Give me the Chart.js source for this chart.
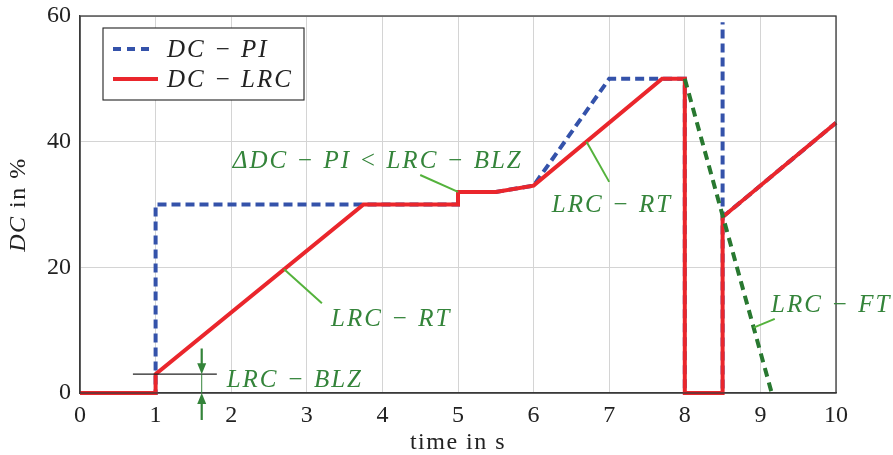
<!DOCTYPE html>
<html>
<head>
<meta charset="utf-8">
<script src="https://cdn.jsdelivr.net/npm/chart.js@4"></script>
<style>
  html, body { margin: 0; padding: 0; background: #fff; }
  #wrap { width: 893px; height: 455px; }
</style>
</head>
<body>
<div id="wrap"><canvas id="c" width="893" height="455"></canvas></div>
<script>
// Duty cycle of the PI controller and the LRC controller over time
// (null splits the PI trace after the spike at 8.5 s)
const timePI = [0, 1, 1, 5, 5, 5.5, 6, 7, 8, 8, 8.5, 8.5, 8.5, 8.5, 10];
const dcPI   = [0, 0, 30, 30, 32, 32, 33, 50, 50, 0, 0, 59, null, 28, 43];

const timeLRC = [0, 1, 1, 3.75, 5, 5, 5.5, 6, 7.7, 8, 8, 8.5, 8.5, 10];
const dcLRC   = [0, 0, 3, 30, 30, 32, 32, 33, 50, 50, 0, 0, 28, 43];

// falling-time ramp of the LRC
const timeFT = [8, 9.15];
const dcFT   = [50, 0];

const xTicks = [0, 1, 2, 3, 4, 5, 6, 7, 8, 9, 10];
const yTicks = [0, 20, 40, 60];

const seriesNames = ['DC \u2212 PI', 'DC \u2212 LRC'];

const BLUE = 'rgb(52, 82, 170)';
const RED = 'rgb(234, 38, 44)';
const GREEN_DASH = 'rgb(40, 120, 48)';
const GREEN_TEXT = 'rgb(52, 132, 58)';
const GREEN_LEAD = 'rgb(84, 178, 60)';
const SERIF = '"Liberation Serif", "DejaVu Serif", serif';

const toPoints = (xs, ys) => xs.map((x, i) => ({ x: x, y: ys[i] }));

const noScalePadding = s => {
  s.paddingTop = 0; s.paddingBottom = 0; s.paddingLeft = 0; s.paddingRight = 0;
};

// Frame, legend, annotations and axis titles
const decorations = {
  id: 'decorations',
  afterDatasetsDraw(chart) {
    const ctx = chart.ctx;
    const xs = chart.scales.x, ys = chart.scales.y;
    const X = v => xs.getPixelForValue(v);
    const Y = v => ys.getPixelForValue(v);
    const a = chart.chartArea;

    ctx.save();
    // plot frame
    ctx.strokeStyle = '#3a3a3a';
    ctx.lineWidth = 1.3;
    ctx.strokeRect(a.left, a.top, a.right - a.left, a.bottom - a.top);

    // legend box
    const lx = 103, ly = 28, lw = 201, lh = 72;
    ctx.fillStyle = '#fff';
    ctx.fillRect(lx, ly, lw, lh);
    ctx.strokeStyle = '#222';
    ctx.lineWidth = 1.1;
    ctx.strokeRect(lx, ly, lw, lh);
    const entries = [
      { name: seriesNames[0], color: BLUE, dash: [8, 6], y: 49, x2: 155 },
      { name: seriesNames[1], color: RED, dash: [], y: 79, x2: 158 }
    ];
    entries.forEach(e => {
      ctx.beginPath();
      ctx.setLineDash(e.dash);
      ctx.strokeStyle = e.color;
      ctx.lineWidth = 4;
      ctx.moveTo(113, e.y);
      ctx.lineTo(e.x2, e.y);
      ctx.stroke();
      ctx.setLineDash([]);
      ctx.fillStyle = '#222';
      ctx.font = 'italic 25px ' + SERIF;
      ctx.letterSpacing = '2px';
      ctx.textAlign = 'left';
      ctx.textBaseline = 'middle';
      ctx.fillText(e.name, 167, e.y + 1);
    });

    // leader lines from the curves to their labels
    ctx.strokeStyle = GREEN_LEAD;
    ctx.lineWidth = 2;
    const leaders = [
      [[5.0, 32], [4.5, 34.7]],
      [[2.7, 19.7], [3.2, 14.3]],
      [[6.7, 40], [7.0, 33.6]],
      [[8.91, 10.4], [9.19, 11.8]]
    ];
    leaders.forEach(([p, q]) => {
      ctx.beginPath();
      ctx.moveTo(X(p[0]), Y(p[1]));
      ctx.lineTo(X(q[0]), Y(q[1]));
      ctx.stroke();
    });

    // labels
    ctx.fillStyle = GREEN_TEXT;
    ctx.font = 'italic 25px ' + SERIF;
    ctx.letterSpacing = '2px';
    ctx.textAlign = 'left';
    ctx.textBaseline = 'alphabetic';
    const labels = [
      ['\u0394DC \u2212 PI < LRC \u2212 BLZ', 2.02, 35.8],
      ['LRC \u2212 RT', 3.32, 10.7],
      ['LRC \u2212 RT', 6.24, 28.8],
      ['LRC \u2212 FT', 9.14, 12.9],
      ['LRC \u2212 BLZ', 1.94, 0.95]
    ];
    labels.forEach(([t, x, y]) => ctx.fillText(t, X(x), Y(y)));

    // dead-zone dimension: reference line and arrows
    ctx.strokeStyle = '#222';
    ctx.lineWidth = 1.2;
    ctx.beginPath();
    ctx.moveTo(X(0.7), Y(3));
    ctx.lineTo(X(1.81), Y(3));
    ctx.stroke();

    const ax = X(1.61);
    ctx.strokeStyle = GREEN_TEXT;
    ctx.lineWidth = 1;
    ctx.beginPath();
    ctx.moveTo(ax, Y(3));
    ctx.lineTo(ax, Y(0));
    ctx.stroke();
    ctx.lineWidth = 2.2;
    ctx.beginPath();
    ctx.moveTo(ax, Y(7.1));
    ctx.lineTo(ax, Y(3) - 6);
    ctx.moveTo(ax, Y(-4.3));
    ctx.lineTo(ax, Y(0) + 6);
    ctx.stroke();
    ctx.fillStyle = GREEN_TEXT;
    const head = (tipY, dir) => {
      ctx.beginPath();
      ctx.moveTo(ax, tipY);
      ctx.lineTo(ax - 4.5, tipY - dir * 11);
      ctx.lineTo(ax + 4.5, tipY - dir * 11);
      ctx.closePath();
      ctx.fill();
    };
    head(Y(3), 1);
    head(Y(0), -1);

    // x axis title
    ctx.fillStyle = '#222';
    ctx.font = '24px ' + SERIF;
    ctx.letterSpacing = '1.5px';
    ctx.textAlign = 'center';
    ctx.textBaseline = 'alphabetic';
    ctx.fillText('time in s', (a.left + a.right) / 2, 449);

    // y axis title: italic symbol, upright unit
    ctx.save();
    ctx.translate(19, (a.top + a.bottom) / 2);
    ctx.rotate(-Math.PI / 2);
    ctx.textBaseline = 'middle';
    ctx.textAlign = 'left';
    ctx.letterSpacing = '1.5px';
    ctx.font = 'italic 24px ' + SERIF;
    const w1 = ctx.measureText('DC').width;
    ctx.font = '24px ' + SERIF;
    const w2 = ctx.measureText(' in %').width;
    const start = -(w1 + w2) / 2;
    ctx.font = 'italic 24px ' + SERIF;
    ctx.fillText('DC', start, 0);
    ctx.font = '24px ' + SERIF;
    ctx.fillText(' in %', start + w1, 0);
    ctx.restore();

    ctx.restore();
  }
};

new Chart(document.getElementById('c'), {
  type: 'line',
  data: {
    datasets: [
      {
        label: 'LRC \u2212 FT',
        data: toPoints(timeFT, dcFT),
        borderColor: GREEN_DASH,
        borderWidth: 4,
        borderDash: [9, 6],
        pointRadius: 0,
        tension: 0,
        clip: false,
        order: 0
      },
      {
        label: seriesNames[1],
        data: toPoints(timeLRC, dcLRC),
        borderColor: RED,
        borderWidth: 4,
        pointRadius: 0,
        tension: 0,
        clip: false,
        order: 1
      },
      {
        label: seriesNames[0],
        data: toPoints(timePI, dcPI),
        borderColor: BLUE,
        borderWidth: 4,
        borderDash: [9, 5],
        pointRadius: 0,
        tension: 0,
        spanGaps: false,
        clip: false,
        order: 2
      }
    ]
  },
  options: {
    responsive: false,
    animation: false,
    events: [],
    layout: { padding: { left: 0, right: 57, top: 16, bottom: 0 } },
    plugins: { legend: { display: false }, tooltip: { enabled: false } },
    scales: {
      x: {
        type: 'linear',
        min: 0, max: 10,
        afterBuildTicks: s => { s.ticks = xTicks.map(v => ({ value: v })); },
        afterFit: s => { s.height = 62; noScalePadding(s); },
        grid: { color: '#d4d4d4', lineWidth: 1, drawTicks: false },
        border: { color: '#3a3a3a', width: 1.3 },
        ticks: { color: '#222', padding: 8, font: { family: SERIF, size: 24 }, maxRotation: 0 },
        title: { display: false }
      },
      y: {
        type: 'linear',
        min: 0, max: 60,
        afterBuildTicks: s => { s.ticks = yTicks.map(v => ({ value: v })); },
        afterFit: s => { s.width = 80; noScalePadding(s); },
        grid: { color: '#d4d4d4', lineWidth: 1, drawTicks: false },
        border: { color: '#3a3a3a', width: 1.3 },
        ticks: { color: '#222', padding: 9, font: { family: SERIF, size: 24 } }
      }
    }
  },
  plugins: [decorations]
});
</script>
</body>
</html>
